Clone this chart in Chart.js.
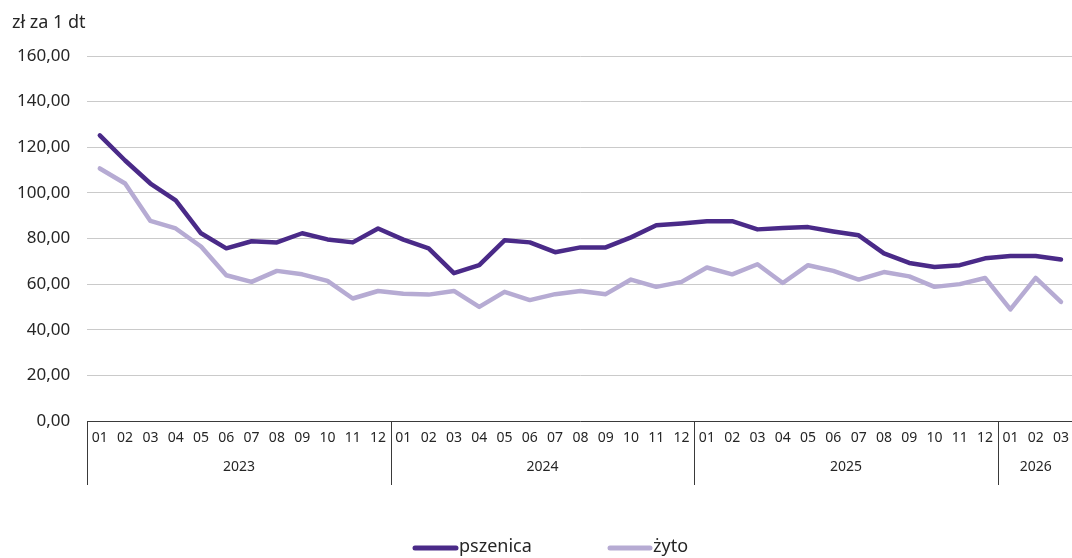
<!DOCTYPE html>
<html>
<head>
<meta charset="utf-8">
<script src="https://cdn.jsdelivr.net/npm/chart.js@4/dist/chart.umd.min.js"></script>
<style>
  html, body { margin: 0; padding: 0; background: #fff; overflow: hidden; }
  #wrap { width: 1072px; height: 558px; overflow: hidden; }
</style>
</head>
<body>
<div id="wrap"><canvas id="c" width="1078" height="558"></canvas></div>
<script>
// miesiące (kategorie osi X)
const months = [
  "01","02","03","04","05","06","07","08","09","10","11","12",
  "01","02","03","04","05","06","07","08","09","10","11","12",
  "01","02","03","04","05","06","07","08","09","10","11","12",
  "01","02","03"
];
// lata i liczba miesięcy w każdym
const years = ["2023", "2024", "2025", "2026"];
const yearMonths = [12, 12, 12, 3];

// ceny w zł za 1 dt
const pszenica = [
  125.2, 114.2, 104.1, 96.7, 82.3, 75.7, 78.8, 78.3, 82.3, 79.6, 78.3, 84.4,
  79.5, 75.7, 64.8, 68.3, 79.2, 78.3, 74.0, 76.1, 76.1, 80.5, 85.8, 86.6,
  87.6, 87.6, 84.0, 84.6, 85.0, 83.1, 81.4, 73.5, 69.3, 67.5, 68.3, 71.3,
  72.3, 72.3, 70.8
];
const zyto = [
  110.7, 104.1, 87.7, 84.4, 76.5, 63.9, 61.0, 65.8, 64.3, 61.4, 53.7, 57.0,
  55.8, 55.4, 57.0, 50.0, 56.6, 53.0, 55.6, 57.0, 55.6, 62.0, 58.8, 61.0,
  67.3, 64.3, 68.7, 60.5, 68.3, 65.8, 62.0, 65.3, 63.4, 58.8, 60.0, 62.7,
  48.9, 62.7, 52.2
];

const yTicks = [0, 20, 40, 60, 80, 100, 120, 140, 160];

const FONT = "'Noto Sans', sans-serif";
const TEXT = "#262626";

// jednostka nad osią Y, podpisy lat, pionowe kreski grup i legenda
const yearAxis = {
  id: "yearAxis",
  afterDraw(chart) {
    const ctx = chart.ctx;
    const x = chart.scales.x;
    const area = chart.chartArea;
    const half = (x.getPixelForValue(1) - x.getPixelForValue(0)) / 2;
    ctx.save();
    ctx.strokeStyle = "#3a3a3a";
    ctx.lineWidth = 1;
    ctx.fillStyle = TEXT;
    ctx.font = "14px " + FONT;
    ctx.textAlign = "center";
    ctx.textBaseline = "middle";
    let start = 0;
    for (let i = 0; i < years.length; i++) {
      const end = start + yearMonths[i] - 1;
      const l = x.getPixelForValue(start) - half;
      const r = x.getPixelForValue(end) + half;
      ctx.beginPath();
      ctx.moveTo(Math.round(l) + 0.5, area.bottom);
      ctx.lineTo(Math.round(l) + 0.5, area.bottom + 64);
      ctx.stroke();
      ctx.fillText(years[i], (l + r) / 2, area.bottom + 46);
      if (i === years.length - 1) {
        ctx.beginPath();
        ctx.moveTo(Math.round(r) + 0.5, area.bottom);
        ctx.lineTo(Math.round(r) + 0.5, area.bottom + 64);
        ctx.stroke();
      }
      start = end + 1;
    }
    ctx.font = "18px " + FONT;
    ctx.textAlign = "left";
    ctx.fillText("zł za 1 dt", 12, 23);

    // legenda
    const items = [[415, 456, 459], [610, 650, 653]];
    chart.data.datasets.forEach((ds, k) => {
      const [a, b, t] = items[k];
      ctx.strokeStyle = ds.borderColor;
      ctx.lineWidth = 5;
      ctx.lineCap = "round";
      ctx.beginPath();
      ctx.moveTo(a, 548);
      ctx.lineTo(b, 548);
      ctx.stroke();
      ctx.fillStyle = TEXT;
      ctx.fillText(ds.label, t, 547);
    });
    ctx.restore();
  }
};

new Chart(document.getElementById("c"), {
  type: "line",
  data: {
    labels: months,
    datasets: [
      {
        label: "pszenica",
        data: pszenica,
        borderColor: "#4a2a88",
        backgroundColor: "#4a2a88",
        borderWidth: 4.5,
        borderCapStyle: "round",
        borderJoinStyle: "round",
        pointRadius: 0,
        tension: 0
      },
      {
        label: "żyto",
        data: zyto,
        borderColor: "#b6abd3",
        backgroundColor: "#b6abd3",
        borderWidth: 4.5,
        borderCapStyle: "round",
        borderJoinStyle: "round",
        pointRadius: 0,
        tension: 0
      }
    ]
  },
  options: {
    responsive: false,
    animation: false,
    layout: { padding: { left: 0, top: 56, right: 0, bottom: 73 } },
    scales: {
      x: {
        offset: true,
        grid: { display: false, drawTicks: false },
        border: { display: true, color: "#3a3a3a", width: 1 },
        ticks: {
          autoSkip: false,
          maxRotation: 0,
          padding: 9,
          color: TEXT,
          font: { family: FONT, size: 14 }
        },
        afterFit(scale) { scale.height = 64; }
      },
      y: {
        min: 0,
        max: 160,
        afterBuildTicks(scale) { scale.ticks = yTicks.map(v => ({ value: v })); },
        grid: { color: "#cacaca", lineWidth: 1, drawTicks: false },
        border: { display: false },
        ticks: {
          padding: 17,
          color: TEXT,
          font: { family: FONT, size: 17 },
          callback: v => v.toFixed(2).replace(".", ",")
        }
      }
    },
    plugins: {
      legend: { display: false },
      tooltip: { enabled: false }
    }
  },
  plugins: [yearAxis]
});
</script>
</body>
</html>
